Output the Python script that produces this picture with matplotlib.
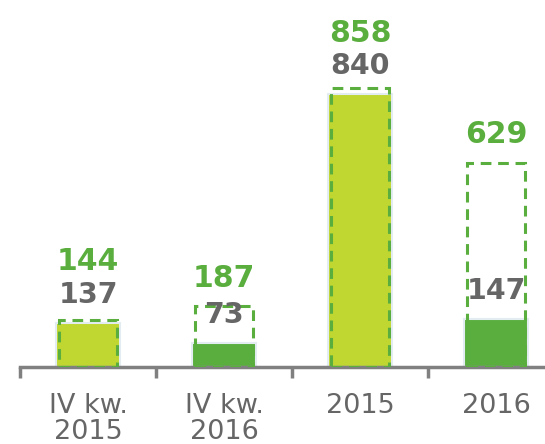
import numpy as np
import matplotlib.pyplot as plt

# dane
categories = ["IV kw.\n2015", "IV kw.\n2016", "2015", "2016"]
totals = [144, 187, 858, 629]      # ramki przerywane
values = [137, 73, 840, 147]       # słupki wypełnione
bar_colors = ["#bfd730", "#5aae3e", "#bfd730", "#5aae3e"]

GREEN = "#5aae3e"
GRAY = "#666666"

W, H, DPI = 545, 444, 100
fig = plt.figure(figsize=(W / DPI, H / DPI), dpi=DPI)
ax_left, ax_bottom = 20, 77
ax = fig.add_axes([ax_left / W, ax_bottom / H, (W - ax_left) / W, (H - ax_bottom) / H])

ymax = 1130
ax.set_xlim(-0.5, 3.36)
ax.set_ylim(0, ymax)
px = (H - ax_bottom) / ymax   # piksele na jednostkę

x = np.arange(len(categories))

# słupki wypełnione
ax.bar(x, values, width=0.465, color=bar_colors, edgecolor="#e3ecf0",
       linewidth=1.5, zorder=2)
# ramki przerywane
ax.bar(x, totals, width=0.42, fill=False, edgecolor=GREEN, linewidth=2.2,
       linestyle=(0, (3.5, 2.2)), zorder=3)

# etykiety
for i in range(len(categories)):
    v_c = values[i] * px + 28
    t_c = max(totals[i] * px + 28, v_c + 33)
    ax.text(x[i], v_c / px, str(values[i]), ha="center", va="center",
            fontsize=20.5, fontweight="bold", color=GRAY, zorder=4)
    ax.text(x[i], t_c / px, str(totals[i]), ha="center", va="center",
            fontsize=21.5, fontweight="bold", color=GREEN, zorder=4)

# osie
for s in ["top", "right", "left"]:
    ax.spines[s].set_visible(False)
ax.spines["bottom"].set_color("#808080")
ax.spines["bottom"].set_linewidth(2.5)
ax.set_yticks([])
ax.set_xticks(x)
ax.set_xticklabels(categories)
ax.set_xticks(np.arange(len(categories)) - 0.5, minor=True)
ax.tick_params(axis="x", which="major", length=0, pad=19, labelsize=19.5,
               labelcolor=GRAY)
ax.tick_params(axis="x", which="minor", length=8, width=2.5, color="#808080")
for lbl in ax.get_xticklabels():
    lbl.set_linespacing(1.0)

fig.savefig("out.png", dpi=DPI)
